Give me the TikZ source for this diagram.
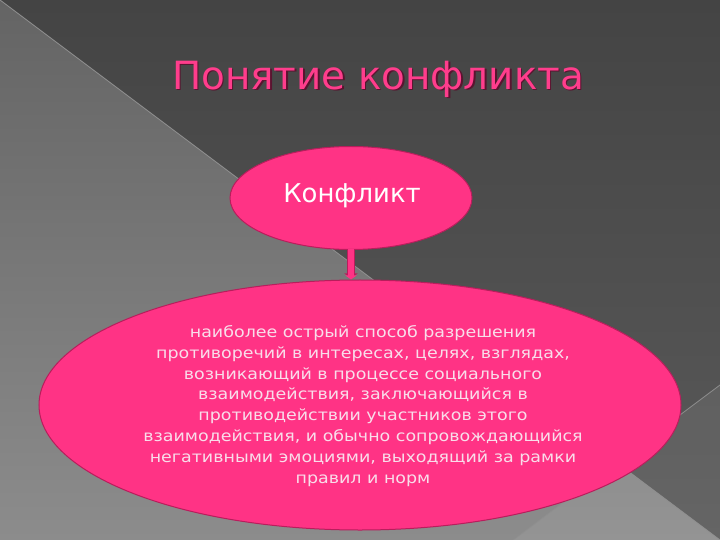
\documentclass[tikz,border=0pt]{standalone}
\usepackage{fontspec}
\setmainfont{DejaVu Sans}
\newfontfamily\bodyfont{DejaVu Sans}[FakeStretch=1.13]
\usetikzlibrary{shapes.geometric,arrows.meta}
\definecolor{pinkfill}{HTML}{FF3385}
\definecolor{pinkedge}{HTML}{B81E5C}
\definecolor{titlepink}{HTML}{FF3D8C}
\definecolor{titledark}{HTML}{5A1430}
\definecolor{lighttext}{HTML}{F9DDEA}
\definecolor{bgtop}{HTML}{444444}
\definecolor{bgmid}{HTML}{5A5A5A}
\definecolor{bgleft}{HTML}{646464}
\definecolor{bgbottom}{HTML}{8C8C8C}
\definecolor{bgline}{HTML}{8E8E8E}
\tikzset{
  bubble/.style={ellipse, fill=pinkfill, draw=pinkedge, line width=1bp, inner sep=0pt},
  titletext/.style={font=\fontsize{39}{44}\selectfont, inner sep=0pt},
  connector/.style={line width=8bp, -{Triangle[width=13bp,length=5bp]}},
  bgedge/.style={draw=bgline, line width=0.8bp}
}
\begin{document}
\begin{tikzpicture}[x=1bp,y=-1bp]
\useasboundingbox (0,0) rectangle (720,540);
% background
\shade[top color=bgtop, bottom color=bgmid] (0,0) -- (720,0) -- (720,540) -- cycle;
\shade[top color=bgleft, bottom color=bgbottom] (0,0) -- (0,540) -- (720,540) -- cycle;
\fill[white, opacity=0.07] (720,385) -- (720,540) -- (513,540) -- cycle;
\draw[bgedge] (0,0) -- (720,540);
\draw[bgedge] (720,385) -- (513,540);
% title
\node[titletext, text=titledark] (titleshadow) at (379.5,80.5) {Понятие конфликта};
\node[titletext, text=titlepink] (title) at (378,79) {Понятие конфликта};
% ellipses
\node[bubble, minimum width=242bp, minimum height=103bp] (small) at (351,198) {};
\node[text=white, font=\fontsize{26}{30}\selectfont, inner sep=0pt] (smalltext) at (352,196) {Конфликт};
\node[bubble, minimum width=642bp, minimum height=250bp] (big) at (360,405) {};
\node[text=lighttext, align=center, font=\bodyfont\fontsize{15.5}{20.9}\selectfont, inner sep=0pt] (bigtext) at (363,406)
 {наиболее острый способ разрешения\\
  противоречий в интересах, целях, взглядах,\\
  возникающий в процессе социального\\
  взаимодействия, заключающийся в\\
  противодействии участников этого\\
  взаимодействия, и обычно сопровождающийся\\
  негативными эмоциями, выходящий за рамки\\
  правил и норм};
% arrow
\draw[connector, draw=pinkedge, fill=pinkedge] (small.south) -- ([yshift=1bp]small.south |- big.north);
\draw[connector, line width=6bp, draw=pinkfill, fill=pinkfill, -{Triangle[width=11bp,length=4bp]}] ([yshift=1bp]small.south) -- ([yshift=0bp]small.south |- big.north);
\end{tikzpicture}
\end{document}
